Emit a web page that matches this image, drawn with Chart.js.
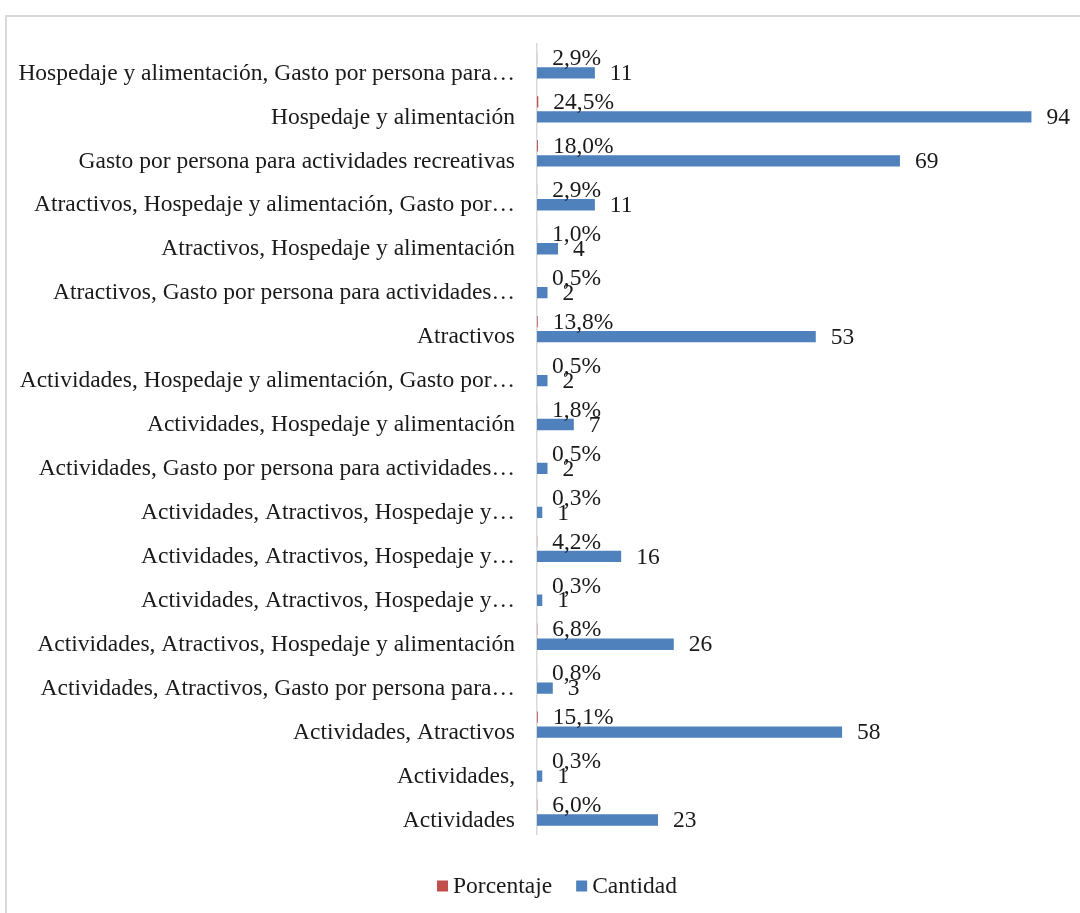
<!DOCTYPE html>
<html>
<head>
<meta charset="utf-8">
<script src="https://cdn.jsdelivr.net/npm/chart.js@4"></script>
<style>
  body { margin: 0; background: #fff; overflow: hidden; }
  #frame { position: absolute; left: 5px; top: 15px; width: 1100px; height: 930px; border: 2px solid #d9d9d9; }
  #chart { position: absolute; left: 0; top: 0; }
</style>
</head>
<body>
<div id="frame"></div>
<canvas id="chart" width="1080" height="913"></canvas>
<script>
// --- Data (top to bottom, as in the picture) ---
const categories = [
    "Hospedaje y alimentación, Gasto por persona para…",
    "Hospedaje y alimentación",
    "Gasto por persona para actividades recreativas",
    "Atractivos, Hospedaje y alimentación, Gasto por…",
    "Atractivos, Hospedaje y alimentación",
    "Atractivos, Gasto por persona para actividades…",
    "Atractivos",
    "Actividades, Hospedaje y alimentación, Gasto por…",
    "Actividades, Hospedaje y alimentación",
    "Actividades, Gasto por persona para actividades…",
    "Actividades, Atractivos, Hospedaje y…",
    "Actividades, Atractivos, Hospedaje y…",
    "Actividades, Atractivos, Hospedaje y…",
    "Actividades, Atractivos, Hospedaje y alimentación",
    "Actividades, Atractivos, Gasto por persona para…",
    "Actividades, Atractivos",
    "Actividades,",
    "Actividades"
];
const porcentaje = [0.029, 0.245, 0.180, 0.029, 0.010, 0.005, 0.138, 0.005, 0.018, 0.005, 0.003, 0.042, 0.003, 0.068, 0.008, 0.151, 0.003, 0.060];
const cantidad = [11, 94, 69, 11, 4, 2, 53, 2, 7, 2, 1, 16, 1, 26, 3, 58, 1, 23];

const FONT = "'Liberation Serif', 'Times New Roman', serif";
const TEXT = '#1a1a1a';

// draws value labels just past the end of each bar
const valueLabels = {
    id: 'valueLabels',
    afterDatasetsDraw(chart) {
        const ctx = chart.ctx;
        ctx.save();
        ctx.font = '23.5px ' + FONT;
        ctx.fillStyle = TEXT;
        ctx.textAlign = 'left';
        ctx.textBaseline = 'middle';
        chart.data.datasets.forEach((ds, di) => {
            chart.getDatasetMeta(di).data.forEach((bar, i) => {
                const v = ds.data[i];
                const txt = di === 0 ? (v * 100).toFixed(1).replace('.', ',') + '%' : String(v);
                ctx.fillText(txt, bar.x + 15, bar.y + 1);
            });
        });
        ctx.restore();
    }
};

// Excel-style legend: small square, short gap, label
const bottomLegend = {
    id: 'bottomLegend',
    afterDraw(chart) {
        const ctx = chart.ctx;
        const box = 11, gap = 5, itemGap = 24, cy = 886, cx = 557;
        ctx.save();
        ctx.font = '23.5px ' + FONT;
        ctx.textBaseline = 'middle';
        ctx.textAlign = 'left';
        const items = chart.data.datasets.map(ds => ({ ds, w: box + gap + ctx.measureText(ds.label).width }));
        const total = items.reduce((s, it) => s + it.w, 0) + itemGap * (items.length - 1);
        let x = cx - total / 2;
        items.forEach(it => {
            ctx.fillStyle = it.ds.backgroundColor;
            ctx.fillRect(x, cy - box / 2, box, box);
            ctx.fillStyle = TEXT;
            ctx.fillText(it.ds.label, x + box + gap, cy + 1);
            x += it.w + itemGap;
        });
        ctx.restore();
    }
};

new Chart(document.getElementById('chart'), {
    type: 'bar',
    data: {
        labels: categories,
        datasets: [
            { label: 'Porcentaje', data: porcentaje, backgroundColor: '#c0504d', categoryPercentage: 0.68, barPercentage: 0.76 },
            { label: 'Cantidad', data: cantidad, backgroundColor: '#4f81bd', categoryPercentage: 0.68, barPercentage: 0.76 }
        ]
    },
    options: {
        indexAxis: 'y',
        responsive: false,
        animation: false,
        layout: { padding: { top: 43.5, right: 17, bottom: 0, left: 0 } },
        scales: {
            x: {
                min: 0, max: 100,
                grid: { display: false },
                border: { display: false },
                ticks: { display: false },
                afterFit(scale) { scale.height = 78.5; }
            },
            y: {
                grid: { display: false, drawTicks: false },
                border: { display: true, color: '#d9d9d9', width: 1.5 },
                ticks: { color: TEXT, font: { family: FONT, size: 23.5 }, padding: 22, labelOffset: 8, autoSkip: false },
                afterFit(scale) { scale.width = 537; }
            }
        },
        plugins: {
            legend: { display: false },
            tooltip: { enabled: false }
        }
    },
    plugins: [valueLabels, bottomLegend]
});
</script>
</body>
</html>
